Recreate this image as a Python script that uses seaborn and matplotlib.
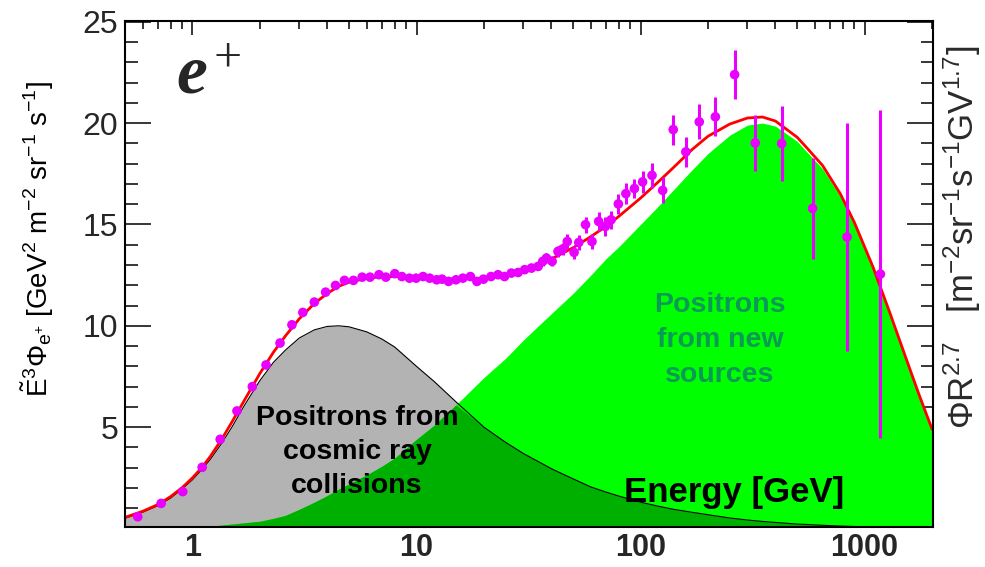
import numpy as np
import matplotlib
matplotlib.use("Agg")
import matplotlib.pyplot as plt
import seaborn as sns
from matplotlib.ticker import FixedLocator, FixedFormatter, MultipleLocator, LogLocator, NullFormatter

# ---------------- data ----------------
energy_grid = [0.5, 0.6, 0.7, 0.8, 0.9, 1.0, 1.1, 1.2, 1.35, 1.5, 1.7, 2.0, 2.3, 2.6, 3.0, 3.5,
               4.0, 4.5, 5.0, 6.0, 7.0, 8.0, 10, 12, 15, 20, 25, 30, 35, 40, 50, 60, 70, 80,
               100, 120, 140, 170, 200, 250, 300, 350, 400, 500, 550, 650, 780, 900, 1090,
               1300, 1530, 1750, 2000]
cosmic_collisions = [0.5, 0.8, 1.12, 1.5, 1.95, 2.4, 2.9, 3.4, 4.2, 5.0, 6.05, 7.3, 8.2, 8.8,
                     9.4, 9.8, 9.97, 10.0, 9.95, 9.7, 9.35, 8.95, 8.0, 7.25, 6.25, 5.0, 4.25,
                     3.7, 3.3, 2.95, 2.45, 2.05, 1.8, 1.6, 1.3, 1.1, 0.95, 0.8, 0.68, 0.52,
                     0.42, 0.35, 0.3, 0.22, 0.2, 0.16, 0.12, 0.1, 0.08, 0.06, 0.05, 0.04, 0.03]
new_sources = [0.0, 0.0, 0.0, 0.0, 0.0, 0.05, 0.08, 0.12, 0.17, 0.22, 0.28, 0.36, 0.5, 0.65,
               0.95, 1.3, 1.63, 1.95, 2.2, 2.65, 3.07, 3.48, 4.4, 5.1, 6.1, 7.45, 8.4, 9.3,
               10.0, 10.6, 11.6, 12.5, 13.3, 13.9, 15.0, 15.9, 16.7, 17.7, 18.5, 19.4,
               19.9, 20.0, 19.85, 19.1, 18.6, 17.74, 16.38, 15.0, 12.82, 10.54, 8.35, 6.56,
               4.87]
total_fit = [0.55, 0.85, 1.18, 1.58, 2.02, 2.5, 3.0, 3.55, 4.4, 5.25, 6.3, 7.65, 8.7, 9.5,
             10.35, 11.1, 11.6, 11.95, 12.15, 12.35, 12.42, 12.43, 12.4, 12.35, 12.3, 12.35,
             12.5, 12.72, 13.0, 13.3, 13.85, 14.4, 14.9, 15.4, 16.3, 17.1, 17.8, 18.7, 19.35,
             19.95, 20.25, 20.3, 20.1, 19.3, 18.8, 17.9, 16.5, 15.1, 12.9, 10.6, 8.4, 6.6, 4.9]

data_energy = [0.57, 0.725, 0.905, 1.105, 1.33, 1.58, 1.85, 2.13, 2.46, 2.78, 3.11, 3.50,
               3.93, 4.35, 4.77, 5.23, 5.72, 6.2, 6.8, 7.3, 8.0, 8.6, 9.3, 9.96, 10.7, 11.45,
               12.3, 13.0, 13.9, 15.0, 16.1, 17.4, 18.6, 19.9, 21.5, 23.1, 24.7, 26.5, 28.4,
               30.4, 32.6, 34.9, 36.6, 38.0, 40.3, 42.8, 44.9, 47.1, 50.5, 53.0, 56.8, 60.7,
               65.0, 69.6, 73.9, 79.6, 86.0, 93.9, 102.1, 112.5, 125.5, 139.9, 159.3, 182.8,
               215.7, 262.9, 324.9, 426.6, 586.0, 834.5, 1176.0]
data_flux = [0.58, 1.24, 1.82, 3.02, 4.40, 5.80, 7.0, 8.07, 9.15, 10.05, 10.66, 11.17, 11.66,
             11.99, 12.24, 12.24, 12.4, 12.4, 12.52, 12.4, 12.57, 12.43, 12.35, 12.35, 12.43,
             12.35, 12.27, 12.3, 12.19, 12.27, 12.35, 12.43, 12.19, 12.3, 12.43, 12.52, 12.43,
             12.6, 12.63, 12.77, 12.85, 12.93, 13.18, 13.34, 13.18, 13.67, 13.79, 14.16,
             13.62, 14.11, 14.99, 14.16, 15.15, 14.9, 15.23, 16.01, 16.52, 16.77, 17.1,
             17.42, 16.68, 19.68, 18.58, 20.06, 20.31, 22.39, 19.02, 18.99, 15.79, 14.38,
             12.55]
data_err = [0.03, 0.04, 0.05, 0.06, 0.08, 0.1, 0.1, 0.1, 0.1, 0.1, 0.1, 0.1, 0.1, 0.1, 0.1,
            0.1, 0.1, 0.1, 0.1, 0.1, 0.1, 0.1, 0.1, 0.1, 0.12, 0.12, 0.12, 0.12, 0.12, 0.12,
            0.13, 0.13, 0.13, 0.14, 0.14, 0.15, 0.15, 0.16, 0.17, 0.18, 0.19, 0.2, 0.22, 0.24,
            0.25, 0.28, 0.3, 0.37, 0.33, 0.35, 0.4, 0.37, 0.47, 0.49, 0.45, 0.49, 0.5, 0.49,
            0.53, 0.62, 0.64, 0.74, 0.75, 0.86, 0.97, 1.22, 1.4, 1.83, 2.5, 5.6, 8.1]

x_ticks = [1, 10, 100, 1000]
x_tick_labels = ["1", "10", "100", "1000"]
y_ticks = [5, 10, 15, 20, 25]
y_tick_labels = ["5", "10", "15", "20", "25"]

# ---------------- style ----------------
sns.set_theme(style="ticks")
plt.rcParams['font.family'] = ['Liberation Sans', 'DejaVu Sans']
plt.rcParams['mathtext.fontset'] = 'custom'
plt.rcParams['mathtext.rm'] = 'Liberation Sans'
plt.rcParams['mathtext.it'] = 'Liberation Sans:italic'
plt.rcParams['mathtext.bf'] = 'Liberation Sans:bold'

MAGENTA = '#ea00ff'
GRAY = '#b3b3b3'
GREEN = '#00ff00'
DARKGREEN = '#00b000'

W, H = 985, 567
fig = plt.figure(figsize=(W / 100, H / 100), dpi=100)
ax = fig.add_axes([125 / W, 1 - 526.5 / H, (932.7 - 125) / W, (526.5 - 20.7) / H])
ax.set_xscale('log')
ax.set_facecolor('white')

E = np.array(energy_grid)
g = np.array(cosmic_collisions)
s = np.array(new_sources)

ax.fill_between(E, 0, g, color=GRAY, lw=0, zorder=1)
ax.fill_between(E, 0, s, color=GREEN, lw=0, zorder=2)
ax.fill_between(E, 0, np.minimum(g, s), color=DARKGREEN, lw=0, zorder=3)
sns.lineplot(x=energy_grid, y=cosmic_collisions, ax=ax, color='black', lw=0.8,
             sort=False, estimator=None, zorder=4)
sns.lineplot(x=energy_grid, y=total_fit, ax=ax, color='#ff0000', lw=2.0,
             sort=False, estimator=None, zorder=5)
ax.errorbar(data_energy, data_flux, yerr=data_err, fmt='none', ecolor=MAGENTA,
            elinewidth=2.2, capsize=0, zorder=6)
sns.scatterplot(x=data_energy, y=data_flux, ax=ax, color=MAGENTA, s=48,
                edgecolor='none', linewidth=0, zorder=7)

ax.set_xlim(0.5, 2013)
ax.set_ylim(0.1, 25.05)

ax.xaxis.set_major_locator(FixedLocator(x_ticks))
ax.xaxis.set_major_formatter(FixedFormatter(x_tick_labels))
ax.xaxis.set_minor_locator(LogLocator(base=10, subs=np.arange(2, 10)))
ax.xaxis.set_minor_formatter(NullFormatter())
ax.yaxis.set_major_locator(FixedLocator(y_ticks))
ax.yaxis.set_major_formatter(FixedFormatter(y_tick_labels))
ax.yaxis.set_minor_locator(MultipleLocator(1))

ax.tick_params(which='both', direction='in', top=True, right=True, color='black', width=1.1)
ax.tick_params(axis='x', which='major', length=10, pad=4.5, labelsize=22)
ax.tick_params(axis='x', which='minor', length=5.5)
ax.tick_params(axis='y', which='major', length=18.5, pad=5, labelsize=23)
ax.tick_params(axis='y', which='minor', length=9)
for lab in ax.get_xticklabels():
    lab.set_fontweight('bold')
for sp in ax.spines.values():
    sp.set_linewidth(1.5)
    sp.set_color('black')
    sp.set_zorder(10)
ax.set_xlabel('')
ax.set_ylabel('')


def fx(px):
    return px / W


def fy(py):
    return 1 - py / H


# axis titles
fig.text(fx(38), fy(239),
         r'$\tilde{\mathrm{E}}^{3}\Phi_{\mathrm{e}^{+}}$ [GeV$^{2}$ m$^{-2}$ sr$^{-1}$ s$^{-1}$]',
         rotation=90, ha='center', va='center', fontsize=20, color='black')
fig.text(fx(962), fy(237),
         r'$\Phi\mathrm{R}^{2.7}$   [m$^{-2}$sr$^{-1}$s$^{-1}$GV$^{1.7}$]',
         rotation=90, ha='center', va='center', fontsize=25, color='#2a2a2a')

# e+ label
fig.text(fx(176), fy(93), 'e', family=['Liberation Serif', 'DejaVu Serif'],
         style='italic', weight='bold', fontsize=50, ha='left', va='baseline')
fig.text(fx(213), fy(72), '+', family=['Liberation Serif', 'DejaVu Serif'],
         fontsize=36, ha='left', va='baseline')

# annotations
for txt, yb in [('Positrons from', 425), ('cosmic ray', 459), ('collisions', 493)]:
    fig.text(fx(357), fy(yb), txt, ha='center', va='baseline', fontsize=20.5,
             weight='bold', color='black', zorder=20)
for txt, yb in [('Positrons', 312), ('from new', 347), ('sources', 382)]:
    fig.text(fx(720), fy(yb), txt, ha='center', va='baseline', fontsize=20.5,
             weight='bold', color='#0a9a55', zorder=20)
fig.text(fx(734), fy(502), 'Energy [GeV]', ha='center', va='baseline', fontsize=25,
         weight='bold', color='black', zorder=20)

fig.savefig('out.png', dpi=100)
